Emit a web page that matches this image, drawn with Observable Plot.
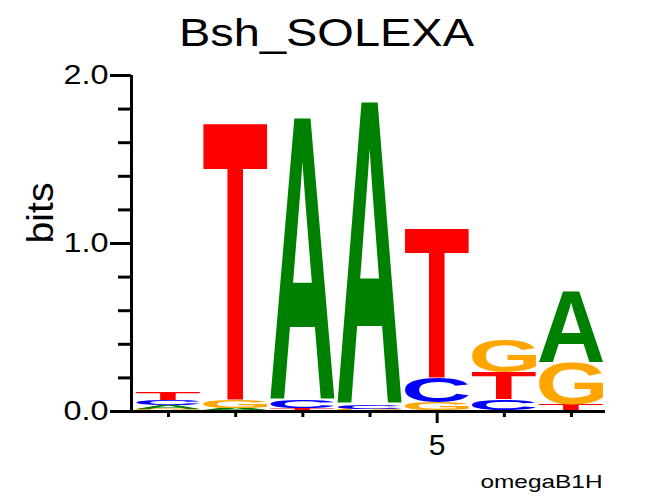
<!DOCTYPE html>
<html><head><meta charset="utf-8">
<script src="https://cdn.jsdelivr.net/npm/d3@7"></script>
<script src="https://cdn.jsdelivr.net/npm/@observablehq/plot@0.6"></script>
<style>html,body{margin:0;padding:0;background:#fff;} svg{display:block;}</style>
</head><body><div id="chart"></div>
<script>
// ---- data (information content, bits, per position) ----
const positions = [1, 2, 3, 4, 5, 6, 7];
const bitsA = [0.022, 0.017, 1.684, 1.805, 0.006, 0.005, 0.420];
const bitsC = [0.030, 0.003, 0.045, 0.023, 0.151, 0.065, 0.003];
const bitsG = [0.014, 0.048, 0.002, 0.012, 0.048, 0.193, 0.250];
const bitsT = [0.042, 1.643, 0.015, 0.002, 0.884, 0.160, 0.037];
const letters = ["A", "C", "G", "T"];
const letterColors = {A: "#008000", C: "#0000ff", G: "#ffa500", T: "#ff0000"};
const yMajorTicks = [0, 1, 2];
const yMinorTicks = [0.2, 0.4, 0.6, 0.8, 1.2, 1.4, 1.6, 1.8];
const xMinorTicks = [1, 2, 3, 4, 6, 7];
const xLabelTicks = [5];
const titleText = "Bsh_SOLEXA";
const yLabel = "bits";
const caption = "omegaB1H";

// ---- build stacks (smallest letter at bottom) ----
const bits = {A: bitsA, C: bitsC, G: bitsG, T: bitsT};
const stacks = [];
positions.forEach((p, i) => {
  const col = letters.map(l => ({letter: l, value: bits[l][i]})).sort((a, b) => a.value - b.value);
  let y = 0;
  for (const c of col) {
    stacks.push({pos: p, letter: c.letter, y1: y, y2: y + c.value, color: letterColors[c.letter]});
    y += c.value;
  }
});

const font = "'Liberation Sans', Arial, Helvetica, sans-serif";
const chart = Plot.plot({
  width: 654, height: 496,
  marginLeft: 131, marginRight: 49, marginTop: 75, marginBottom: 85,
  style: {fontFamily: font, background: "#fff", color: "#000"},
  x: {domain: [0.449, 7.506]},
  y: {domain: [0, 2]},
  marks: [
    Plot.rect(stacks, {x1: d => d.pos - 0.475, x2: d => d.pos + 0.475, y1: "y1", y2: "y2", fill: "color", title: "letter"}),
    Plot.axisY({ticks: yMinorTicks, tickSize: 13, tickFormat: () => "", strokeWidth: 3, label: null}),
    Plot.axisY({ticks: yMajorTicks, tickSize: 21, tickPadding: 2, tickFormat: d3.format(".1f"), fontSize: 28, strokeWidth: 3, label: null}),
    Plot.axisX({ticks: xMinorTicks, tickSize: 6, tickFormat: () => "", strokeWidth: 3, label: null}),
    Plot.axisX({ticks: xLabelTicks, tickSize: 12, tickPadding: 10, tickFormat: d => String(d), fontSize: 30, strokeWidth: 3, label: null}),
    Plot.ruleX([0.449], {strokeWidth: 3, insetBottom: -1.5}),
    Plot.ruleY([0], {strokeWidth: 3}),
    Plot.text([titleText], {text: d => d, frameAnchor: "top", dx: -42, dy: -30, lineAnchor: "bottom", fontSize: 39}),
    Plot.text([yLabel], {text: d => d, frameAnchor: "left", dx: -79, rotate: -90, lineAnchor: "bottom", fontSize: 37}),
    Plot.text([caption], {text: d => d, frameAnchor: "bottom-right", dx: -3, dy: 76, textAnchor: "end", lineAnchor: "bottom", fontSize: 19})
  ]
});
document.getElementById("chart").append(chart);

// stretch texts horizontally as in the reference rendering; drop empty tick labels
const lengths = {"2.0": 45, "1.0": 45, "0.0": 45, "Bsh_SOLEXA": 295, "bits": 61, "omegaB1H": 122};
chart.querySelectorAll("text").forEach(t => {
  const s = t.textContent.trim();
  if (s === "") { t.remove(); return; }
  if (lengths[s]) { t.setAttribute("textLength", lengths[s]); t.setAttribute("lengthAdjust", "spacingAndGlyphs"); }
});

// measure the ink box of each glyph by scanning a canvas
const glyphFont = "'Liberation Sans', Arial, sans-serif";
const inkCache = {};
function ink(letter) {
  if (inkCache[letter]) return inkCache[letter];
  const S = 500, ox = 100, oy = 350, fs = 200;
  const cv = document.createElement("canvas"); cv.width = S; cv.height = S;
  const c = cv.getContext("2d");
  c.font = `bold ${fs}px ${glyphFont}`;
  c.fillStyle = "#000"; c.textBaseline = "alphabetic";
  c.fillText(letter, ox, oy);
  const data = c.getImageData(0, 0, S, S).data;
  let minX = S, maxX = -1, minY = S, maxY = -1;
  for (let yy = 0; yy < S; yy++) for (let xx = 0; xx < S; xx++) {
    if (data[(yy * S + xx) * 4 + 3] > 110) {
      if (xx < minX) minX = xx; if (xx > maxX) maxX = xx;
      if (yy < minY) minY = yy; if (yy > maxY) maxY = yy;
    }
  }
  const k = 100 / fs;
  const r = {left: (minX - ox) * k, right: (maxX + 1 - ox) * k, top: (minY - oy) * k, bottom: (maxY + 1 - oy) * k};
  inkCache[letter] = r;
  return r;
}

// replace each stack rect by its letter glyph stretched to fill it
const svgns = "http://www.w3.org/2000/svg";
chart.querySelectorAll("rect").forEach(r => {
  const ttl = r.querySelector("title");
  if (!ttl) return;
  const letter = ttl.textContent;
  const x = +r.getAttribute("x"), y = +r.getAttribute("y");
  const w = +r.getAttribute("width"), h = +r.getAttribute("height");
  const fill = r.getAttribute("fill");
  const b = ink(letter);
  const sx = w / (b.right - b.left), sy = h / (b.bottom - b.top);
  const t = document.createElementNS(svgns, "text");
  t.textContent = letter;
  t.setAttribute("x", 0); t.setAttribute("y", 0);
  t.setAttribute("text-anchor", "start");
  t.setAttribute("font-family", glyphFont);
  t.setAttribute("font-weight", "bold");
  t.setAttribute("font-size", 100);
  t.setAttribute("fill", fill);
  t.setAttribute("transform", `translate(${x - b.left * sx},${y - b.top * sy}) scale(${sx},${sy})`);
  r.parentNode.insertBefore(t, r);
  r.remove();
});
</script></body></html>
